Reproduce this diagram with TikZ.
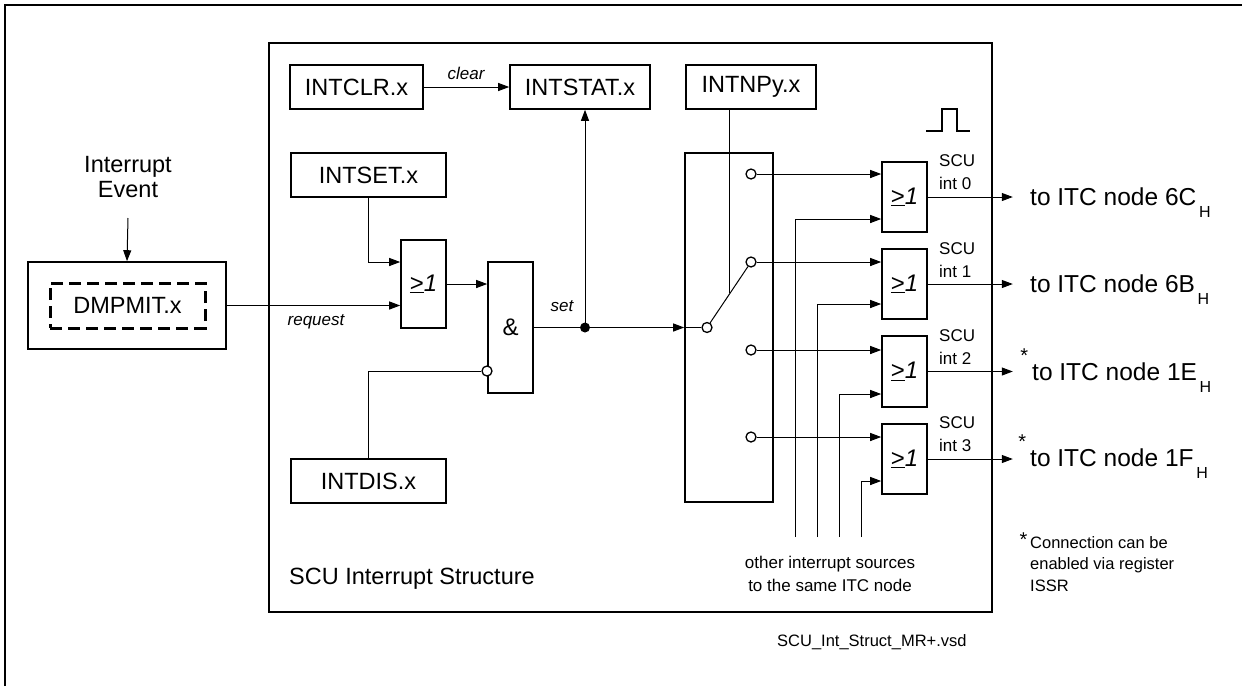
\documentclass[tikz,border=0pt]{standalone}
\usepackage{fontspec}
\setmainfont{Liberation Sans}
\usetikzlibrary{arrows.meta,calc}
\newcommand{\geone}{\underline{>}\textit{1}}
\begin{document}
\begin{tikzpicture}[x=1pt,y=-1pt,
 reg/.style={draw, line width=1.6pt, inner sep=0pt, minimum height=44pt, font=\fontsize{23.5}{26}\selectfont},
 gate/.style={draw, line width=1.6pt, inner sep=0pt, minimum width=45pt, font=\fontsize{24}{26}\selectfont},
 wire/.style={line width=1pt},
 arr/.style={wire, -{Triangle[length=11pt,width=8pt]}},
 lbl/.style={font=\fontsize{17}{20}\selectfont\itshape, inner sep=0pt},
 small/.style={font=\fontsize{17}{23}\selectfont, inner sep=0pt},
 big/.style={font=\fontsize{24.5}{28}\selectfont, inner sep=0pt},
 pin/.style={circle, draw, line width=1.3pt, fill=white, minimum size=10pt, inner sep=0pt},
]
\useasboundingbox (0,0) rectangle (1242,686);
\draw[line width=1.6pt] (5,686) -- (5,5) -- (1242,5);

% main box
\node[draw, line width=1.8pt, minimum width=723pt, minimum height=569pt, inner sep=0pt] (scu) at (630.5,327.5) {};
\node[anchor=west, inner sep=0pt, font=\fontsize{23.5}{26}\selectfont] (title) at (289,579) {SCU Interrupt Structure};

% registers
\node[reg, minimum width=133pt] (clr) at (356.5,87) {INTCLR.x};
\node[reg, minimum width=140pt] (stat) at (580,87) {INTSTAT.x};
\node[reg, minimum width=130pt] (npy) at (751,87) {INTNPy.x};
\node[reg, minimum width=155pt] (setr) at (368.5,175) {INTSET.x};
\node[reg, minimum width=155pt] (dis) at (368.5,481) {INTDIS.x};

% DMPMIT
\node[draw, line width=1.6pt, minimum width=198pt, minimum height=87pt, inner sep=0pt] (dmp) at (127,305.5) {};
\node[draw, line width=3pt, dash pattern=on 12pt off 6pt, minimum width=155pt, minimum height=45pt, inner sep=0pt, font=\fontsize{23.5}{26}\selectfont] (dmpi) at (127.5,305.5) {DMPMIT.x};
\node[font=\fontsize{23.5}{25}\selectfont, align=center, inner sep=0pt] (evt) at (128,177.5) {Interrupt\\Event};
\draw[arr] (evt.south |- 0,218) -- (dmp.north);

% gates
\node[gate, minimum height=88pt] (or1) at (423.5,284) {\geone};
\node[gate, minimum height=131pt] (and) at (510.5,327.5) {\&};
\node[draw, line width=1.6pt, minimum width=88pt, minimum height=349pt, inner sep=0pt] (sw) at (729,327.5) {};
\node[gate, minimum height=70pt] (o0) at (904.5,197) {\geone};
\node[gate, minimum height=70pt] (o1) at (904.5,284) {\geone};
\node[gate, minimum height=71pt] (o2) at (904.5,371.5) {\geone};
\node[gate, minimum height=70pt] (o3) at (904.5,459) {\geone};

% clear
\draw[arr] (clr.east) -- (stat.west);
\node[lbl] at (466,73) {clear};

% request
\draw[arr] (dmp.east) -- (dmp.east -| or1.west);
\node[lbl] at (316,322) {request};
\draw[arr] (setr.south) |- ($(or1.west)+(0,-22)$);
\draw[arr] (or1.east) -- (or1.east -| and.west);
\node[pin] (inv) at (487,371) {};
\draw[wire] (dis.north) |- (inv.west);

% set
\draw[arr] (and.east) -- (and.east -| sw.west);
\node[circle, fill, minimum size=10pt, inner sep=0pt] (dot) at (585,327.5) {};
\draw[arr] (dot.center) -- (dot.center |- stat.south);
\node[lbl] at (562,306) {set};

% switch
\node[pin] (sin) at (707,327.5) {};
\node[pin] (p0) at (751,174) {};
\node[pin] (p1) at (751,262) {};
\node[pin] (p2) at (751,350) {};
\node[pin] (p3) at (751,437) {};
\draw[wire] (sw.west) -- (sin.west);
\draw[wire] (sin) -- (p1);
\coordinate (lever) at (729,293);
\draw[wire] (lever |- npy.south) -- (lever);
\draw[line width=1.5pt] (926,131) -- (942,131) -- (942,109) -- (957,109) -- (957,131) -- (970,131);

\draw[arr] (p0.east) -- (p0.east -| o0.west);
\draw[arr] (p1.east) -- (p1.east -| o1.west);
\draw[arr] (p2.east) -- (p2.east -| o2.west);
\draw[arr] (p3.east) -- (p3.east -| o3.west);

% other sources
\coordinate (s0) at (795,537);
\coordinate (s1) at (817,537);
\coordinate (s2) at (839,537);
\coordinate (s3) at (861,537);
\draw[arr] (s0) |- ($(o0.west)+(0,22)$);
\draw[arr] (s1) |- ($(o1.west)+(0,20)$);
\draw[arr] (s2) |- ($(o2.west)+(0,22.5)$);
\draw[arr] (s3) |- ($(o3.west)+(0,22)$);
\node[small, align=center] (oth) at (830,573.5) {other interrupt sources\\to the same ITC node};

% SCU int labels
\node[small, anchor=west, align=left] at (939,172) {SCU\\int 0};
\node[small, anchor=west, align=left] at (939,260) {SCU\\int 1};
\node[small, anchor=west, align=left] at (939,347) {SCU\\int 2};
\node[small, anchor=west, align=left] at (939,434) {SCU\\int 3};

% outputs
\node[big, anchor=base west] (itc0) at (1030,205) {to ITC node 6C\raisebox{-12pt}{\fontsize{16}{16}\selectfont\,H}};
\node[big, anchor=base west] (itc1) at (1030,292) {to ITC node 6B\raisebox{-12pt}{\fontsize{16}{16}\selectfont\,H}};
\node[big, anchor=base west] (itc2) at (1032,380) {\llap{\raisebox{18pt}{\fontsize{20}{20}\selectfont *}\,}to ITC node 1E\raisebox{-12pt}{\fontsize{16}{16}\selectfont\,H}};
\node[big, anchor=base west] (itc3) at (1030,466) {\llap{\raisebox{18pt}{\fontsize{20}{20}\selectfont *}\,}to ITC node 1F\raisebox{-12pt}{\fontsize{16}{16}\selectfont\,H}};
\draw[arr] (o0.east) -- ++(85,0);
\draw[arr] (o1.east) -- ++(85,0);
\draw[arr] (o2.east) -- ++(85,0);
\draw[arr] (o3.east) -- ++(85,0);

% footnote
\node[small, anchor=west, align=left, font=\fontsize{16.5}{21.5}\selectfont] (fn) at (1030,562) {\llap{\raisebox{2pt}{\fontsize{20}{20}\selectfont *}\,}Connection can be\\enabled via register\\ISSR};
\node[anchor=west, inner sep=0pt, font=\fontsize{16.5}{20}\selectfont] (file) at (777,642) {SCU\_Int\_Struct\_MR+.vsd};
\end{tikzpicture}
\end{document}
